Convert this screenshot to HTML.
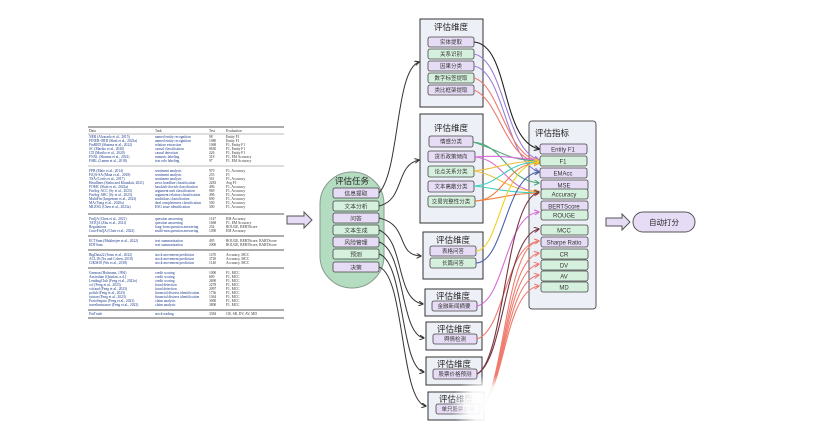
<!DOCTYPE html>
<html><head><meta charset="utf-8"><style>
html,body{margin:0;padding:0;background:#fff;}
svg{display:block;}
.cn{font-family:"Liberation Sans","Noto Sans CJK SC",sans-serif;}
</style></head><body>
<svg width="831" height="443" viewBox="0 0 831 443" xmlns="http://www.w3.org/2000/svg" class="cn">
<defs>
<marker id="ah" viewBox="0 0 10 10" refX="9" refY="5" markerWidth="5" markerHeight="5" orient="auto"><path d="M0,0 L10,5 L0,10" fill="none" stroke="context-stroke" stroke-width="2"/></marker>
<radialGradient id="fade"><stop offset="0" stop-color="#fff" stop-opacity="1"/><stop offset="0.6" stop-color="#fff" stop-opacity="0.9"/><stop offset="1" stop-color="#fff" stop-opacity="0"/></radialGradient>
</defs>

<!-- table -->
<g font-family="Liberation Serif,serif" font-size="3.6" fill="#333">
<line x1="88" y1="127" x2="284" y2="127" stroke="#222" stroke-width="0.8"/>
<line x1="88" y1="134" x2="284" y2="134" stroke="#555" stroke-width="0.4"/>
<text x="89" y="132">Data</text><text x="155" y="132">Task</text><text x="209" y="132">Test</text><text x="226" y="132">Evaluation</text>
<text x="89" y="138" fill="#1a3a8a">NER (Alvarado et al., 2015)</text><text x="155" y="138" fill="#1a3a8a">named entity recognition</text><text x="209" y="138">98</text><text x="226" y="138">Entity F1</text>
<text x="89" y="142" fill="#1a3a8a">FINER-ORD (Shah et al., 2023a)</text><text x="155" y="142" fill="#1a3a8a">named entity recognition</text><text x="209" y="142">1080</text><text x="226" y="142">Entity F1</text>
<text x="89" y="146" fill="#1a3a8a">FinRED (Sharma et al., 2022)</text><text x="155" y="146" fill="#1a3a8a">relation extraction</text><text x="209" y="146">1068</text><text x="226" y="146">F1, Entity F1</text>
<text x="89" y="150" fill="#1a3a8a">SC (Mariko et al., 2020)</text><text x="155" y="150" fill="#1a3a8a">causal classification</text><text x="209" y="150">8630</text><text x="226" y="150">F1, Entity F1</text>
<text x="89" y="154" fill="#1a3a8a">CD (Mariko et al., 2020)</text><text x="155" y="154" fill="#1a3a8a">causal detection</text><text x="209" y="154">226</text><text x="226" y="154">F1, Entity F1</text>
<text x="89" y="158" fill="#1a3a8a">FNXL (Sharma et al., 2023)</text><text x="155" y="158" fill="#1a3a8a">numeric labeling</text><text x="209" y="158">318</text><text x="226" y="158">F1, EM Accuracy</text>
<text x="89" y="162" fill="#1a3a8a">FSRL (Lamm et al., 2018)</text><text x="155" y="162" fill="#1a3a8a">text role labeling</text><text x="209" y="162">97</text><text x="226" y="162">F1, EM Accuracy</text>
<line x1="88" y1="166" x2="284" y2="166" stroke="#555" stroke-width="0.4"/>
<g fill="#1a3a8a">
<text x="89" y="172">FPB (Malo et al., 2014)</text><text x="155" y="172">sentiment analysis</text>
<text x="89" y="176">FiQA-SA (Maia et al., 2018)</text><text x="155" y="176">sentiment analysis</text>
<text x="89" y="180">TSA (Cortis et al., 2017)</text><text x="155" y="180">sentiment analysis</text>
<text x="89" y="184">Headlines (Sinha and Khandait, 2021)</text><text x="155" y="184">news headline classification</text>
<text x="89" y="188">FOMC (Shah et al., 2023a)</text><text x="155" y="188">hawkish-dovish classification</text>
<text x="89" y="192">FinArg-ACC (Sy et al., 2023)</text><text x="155" y="192">argument unit classification</text>
<text x="89" y="196">FinArg-ARC (Sy et al., 2023)</text><text x="155" y="196">argument relation classification</text>
<text x="89" y="200">MultiFin (Jørgensen et al., 2023)</text><text x="155" y="200">multiclass classification</text>
<text x="89" y="204">MA (Yang et al., 2020a)</text><text x="155" y="204">deal completeness classification</text>
<text x="89" y="208">MLESG (Chen et al., 2023a)</text><text x="155" y="208">ESG issue identification</text>
</g>
<g fill="#333"><text x="209" y="172">970</text><text x="209" y="176">235</text><text x="209" y="180">561</text><text x="209" y="184">2283</text><text x="209" y="188">496</text><text x="209" y="192">969</text><text x="209" y="196">496</text><text x="209" y="200">690</text><text x="209" y="204">500</text><text x="209" y="208">300</text>
<text x="226" y="172">F1, Accuracy</text><text x="226" y="176">F1</text><text x="226" y="180">F1, Accuracy</text><text x="226" y="184">Avg F1</text><text x="226" y="188">F1, Accuracy</text><text x="226" y="192">F1, Accuracy</text><text x="226" y="196">F1, Accuracy</text><text x="226" y="200">F1, Accuracy</text><text x="226" y="204">F1, Accuracy</text><text x="226" y="208">F1, Accuracy</text></g>
<line x1="88" y1="214" x2="284" y2="214" stroke="#222" stroke-width="0.8"/>
<g fill="#1a3a8a"><text x="89" y="220">FinQA (Chen et al., 2021)</text><text x="155" y="220">question answering</text>
<text x="89" y="224">TATQA (Zhu et al., 2021)</text><text x="155" y="224">question answering</text>
<text x="89" y="228">Regulations</text><text x="155" y="228">long-form question answering</text>
<text x="89" y="232">ConvFinQA (Chen et al., 2022)</text><text x="155" y="232">multi-turn question answering</text></g>
<g fill="#333"><text x="209" y="220">1147</text><text x="226" y="220">EM Accuracy</text><text x="209" y="224">1668</text><text x="226" y="224">F1, EM Accuracy</text><text x="209" y="228">254</text><text x="226" y="228">ROUGE, BERTScore</text><text x="209" y="232">1490</text><text x="226" y="232">EM Accuracy</text></g>
<line x1="88" y1="236" x2="284" y2="236" stroke="#222" stroke-width="0.8"/>
<g fill="#1a3a8a"><text x="89" y="242">ECTSum (Mukherjee et al., 2022)</text><text x="155" y="242">text summarization</text>
<text x="89" y="246">EDTSum</text><text x="155" y="246">text summarization</text></g>
<g fill="#333"><text x="209" y="242">495</text><text x="226" y="242">ROUGE, BERTScore, BARTScore</text><text x="209" y="246">2000</text><text x="226" y="246">ROUGE, BERTScore, BARTScore</text></g>
<line x1="88" y1="250" x2="284" y2="250" stroke="#222" stroke-width="0.8"/>
<g fill="#1a3a8a"><text x="89" y="256">BigData22 (Soun et al., 2022)</text><text x="155" y="256">stock movement prediction</text>
<text x="89" y="260">ACL18 (Xu and Cohen, 2018)</text><text x="155" y="260">stock movement prediction</text>
<text x="89" y="264">CIKM18 (Wu et al., 2018)</text><text x="155" y="264">stock movement prediction</text></g>
<g fill="#333"><text x="209" y="256">1470</text><text x="226" y="256">Accuracy, MCC</text><text x="209" y="260">3720</text><text x="226" y="260">Accuracy, MCC</text><text x="209" y="264">1140</text><text x="226" y="264">Accuracy, MCC</text></g>
<line x1="88" y1="268" x2="284" y2="268" stroke="#222" stroke-width="0.8"/>
<g fill="#1a3a8a"><text x="89" y="274">German (Hofmann, 1994)</text><text x="155" y="274">credit scoring</text>
<text x="89" y="278">Australian (Quinlan, n.d.)</text><text x="155" y="278">credit scoring</text>
<text x="89" y="282">LendingClub (Feng et al., 2023a)</text><text x="155" y="282">credit scoring</text>
<text x="89" y="286">ccf (Feng et al., 2023)</text><text x="155" y="286">fraud detection</text>
<text x="89" y="290">ccfraud (Feng et al., 2023)</text><text x="155" y="290">fraud detection</text>
<text x="89" y="294">polish (Feng et al., 2023)</text><text x="155" y="294">financial distress identification</text>
<text x="89" y="298">taiwan (Feng et al., 2023)</text><text x="155" y="298">financial distress identification</text>
<text x="89" y="302">PortoSeguro (Feng et al., 2023)</text><text x="155" y="302">claim analysis</text>
<text x="89" y="306">travelinsurance (Feng et al., 2023)</text><text x="155" y="306">claim analysis</text></g>
<g fill="#333"><text x="209" y="274">1000</text><text x="209" y="278">690</text><text x="209" y="282">2690</text><text x="209" y="286">2278</text><text x="209" y="290">2097</text><text x="209" y="294">1736</text><text x="209" y="298">1364</text><text x="209" y="302">3000</text><text x="209" y="306">3800</text>
<text x="226" y="274">F1, MCC</text><text x="226" y="278">F1, MCC</text><text x="226" y="282">F1, MCC</text><text x="226" y="286">F1, MCC</text><text x="226" y="290">F1, MCC</text><text x="226" y="294">F1, MCC</text><text x="226" y="298">F1, MCC</text><text x="226" y="302">F1, MCC</text><text x="226" y="306">F1, MCC</text></g>
<line x1="88" y1="310" x2="284" y2="310" stroke="#222" stroke-width="0.8"/>
<text x="89" y="315" fill="#1a3a8a">FinTrade</text><text x="155" y="315" fill="#1a3a8a">stock trading</text><text x="209" y="315">3384</text><text x="226" y="315">CR, SR, DV, AV, MD</text>
<line x1="88" y1="318" x2="284" y2="318" stroke="#222" stroke-width="0.8"/>
</g>

<!-- hollow arrow left -->
<path d="M287,216 L304,216 L304,212 L312,220 L304,228 L304,224 L287,224 Z" fill="#e6dcf5" stroke="#555" stroke-width="1"/>

<!-- tasks oval -->
<rect x="320" y="172" width="64" height="116" rx="32" fill="#b3dcc0" stroke="#8a9a90" stroke-width="1"/>
<text x="352" y="184" font-size="8.5" text-anchor="middle" fill="#222">评估任务</text>
<g font-size="5.8" text-anchor="middle" fill="#333" stroke-width="0.8">
<rect x="333" y="188" width="46" height="10" rx="2" fill="#e6dcf5" stroke="#444"/><text x="356" y="195.5">信息提取</text>
<rect x="333" y="201" width="46" height="10" rx="2" fill="#d5f0dd" stroke="#444"/><text x="356" y="208.5">文本分析</text>
<rect x="333" y="213" width="46" height="10" rx="2" fill="#e6dcf5" stroke="#444"/><text x="356" y="220.5">问答</text>
<rect x="333" y="225" width="46" height="10" rx="2" fill="#d5f0dd" stroke="#444"/><text x="356" y="232.5">文本生成</text>
<rect x="333" y="237" width="46" height="10" rx="2" fill="#e6dcf5" stroke="#444"/><text x="356" y="244.5">风险管理</text>
<rect x="333" y="249" width="46" height="10" rx="2" fill="#d5f0dd" stroke="#444"/><text x="356" y="256.5">预测</text>
<rect x="333" y="262" width="46" height="10" rx="2" fill="#e6dcf5" stroke="#444"/><text x="356" y="269.5">决策</text>
</g>

<!-- task -> dimension connectors -->
<g fill="none" stroke="#333" stroke-width="1" marker-end="url(#ah)">
<path d="M379,193 C400,170 395,70 419,62"/>
<path d="M379,206 C405,200 395,165 419,160"/>
<path d="M379,218 C410,225 395,255 421,256"/>
<path d="M379,230 C405,240 395,300 423,304"/>
<path d="M379,242 C405,250 400,335 424,338"/>
<path d="M379,254 C405,262 400,368 424,372"/>
<path d="M379,267 C405,275 400,402 426,406"/>
</g>

<!-- dimension boxes -->
<g stroke="#333" stroke-width="1" fill="#eef0f8">
<rect x="420" y="19" width="63" height="88"/>
<rect x="420" y="114" width="63" height="109"/>
<rect x="423" y="232" width="60" height="47"/>
<rect x="425" y="289" width="57" height="27"/>
<rect x="426" y="322" width="56" height="28"/>
<rect x="426" y="357" width="56" height="28"/>
<rect x="428" y="392" width="56" height="28"/>
</g>
<g font-size="8.5" text-anchor="middle" fill="#222">
<text x="451" y="30">评估维度</text><text x="451" y="131">评估维度</text><text x="453" y="243">评估维度</text>
<text x="453" y="299">评估维度</text><text x="454" y="332">评估维度</text><text x="454" y="367">评估维度</text><text x="456" y="402">评估维度</text>
</g>
<g font-size="5.5" text-anchor="middle" fill="#333" stroke-width="0.8">
<rect x="428" y="37" width="46" height="10" rx="2" fill="#e6dcf5" stroke="#444"/><text x="451" y="44">实体提取</text>
<rect x="428" y="49" width="46" height="10" rx="2" fill="#d5f0dd" stroke="#444"/><text x="451" y="56">关系识别</text>
<rect x="428" y="61" width="46" height="10" rx="2" fill="#e6dcf5" stroke="#444"/><text x="451" y="68">因果分类</text>
<rect x="428" y="73" width="46" height="10" rx="2" fill="#d5f0dd" stroke="#444"/><text x="451" y="80">数字标签提取</text>
<rect x="428" y="85" width="46" height="10" rx="2" fill="#e6dcf5" stroke="#444"/><text x="451" y="92">类比框架提取</text>

<rect x="429" y="136" width="44" height="11" rx="2" fill="#e6dcf5" stroke="#444"/><text x="451" y="143.5">情感分类</text>
<rect x="428" y="151" width="47" height="11" rx="2" fill="#e6dcf5" stroke="#444"/><text x="451" y="158.5">货币政策倾向</text>
<rect x="428" y="166" width="46" height="11" rx="2" fill="#d5f0dd" stroke="#444"/><text x="451" y="173.5">论点关系分类</text>
<rect x="428" y="181" width="46" height="11" rx="2" fill="#e6dcf5" stroke="#444"/><text x="451" y="188.5">文本离散分类</text>
<rect x="428" y="196" width="47" height="11" rx="2" fill="#d5f0dd" stroke="#444"/><text x="451" y="203.5">交易完整性分类</text>

<rect x="430" y="246" width="46" height="10" rx="2" fill="#e6dcf5" stroke="#444"/><text x="453" y="253">表格问答</text>
<rect x="430" y="258" width="46" height="10" rx="2" fill="#d5f0dd" stroke="#444"/><text x="453" y="265">长篇问答</text>
<rect x="432" y="301" width="45" height="10" rx="2" fill="#e6dcf5" stroke="#444"/><text x="454" y="308">金融新闻摘要</text>
<rect x="433" y="334" width="44" height="10" rx="2" fill="#e6dcf5" stroke="#444"/><text x="455" y="341">舆情检测</text>
<rect x="433" y="369" width="44" height="10" rx="2" fill="#e6dcf5" stroke="#444"/><text x="455" y="376">股票价格预测</text>
<rect x="436" y="404" width="44" height="10" rx="2" fill="#e6dcf5" stroke="#444"/><text x="458" y="411">单只股票交易</text>
</g>

<!-- metrics box -->
<rect x="529" y="121" width="67" height="188" rx="3" fill="#eef0f8" stroke="#555" stroke-width="1"/>
<text x="535" y="136" font-size="8.5" fill="#222">评估指标</text>

<!-- colored connectors -->
<g fill="none" stroke-width="1.1" marker-end="url(#ah)">
<path d="M474,42 C510,45 500,140 539,149" stroke="#222"/>
<path d="M474,54 C505,60 505,150 539,160" stroke="#9a7ed8"/>
<path d="M474,66 C505,72 505,160 539,172" stroke="#9a7ed8"/>
<path d="M474,78 C500,85 505,155 539,161" stroke="#ef7b6e"/>
<path d="M474,90 C500,100 505,160 539,162" stroke="#ef7b6e"/>
<path d="M473,142 C505,145 505,180 539,183" stroke="#4fa878"/>
<path d="M473,142 C500,150 505,160 539,161" stroke="#4fa878"/>
<path d="M475,157 C505,155 510,158 539,160" stroke="#d86ad8"/>
<path d="M475,157 C505,160 505,190 539,192" stroke="#d86ad8"/>
<path d="M474,171 C500,168 505,162 539,161" stroke="#f0c040"/>
<path d="M474,171 C500,175 505,190 539,192" stroke="#f0c040"/>
<path d="M474,186 C500,185 505,162 539,162" stroke="#40d0c0"/>
<path d="M474,186 C505,190 505,192 539,193" stroke="#40d0c0"/>
<path d="M475,201 C505,200 505,163 539,163" stroke="#f08040"/>
<path d="M475,201 C505,198 505,194 539,193" stroke="#f08040"/>
<path d="M476,251 C500,250 500,165 539,162" stroke="#f0d020"/>
<path d="M476,263 C505,262 505,175 539,172" stroke="#4a60b0"/>
<path d="M477,306 C505,300 505,215 539,212" stroke="#d86ad8"/>
<path d="M477,339 C505,330 505,245 539,241" stroke="#ef7b6e"/>
<path d="M477,374 C505,360 505,235 539,229" stroke="#7a3540"/>
<path d="M477,374 C505,360 505,200 539,192" stroke="#7a3540"/>
<path d="M480,409 C505,390 505,260 539,253" stroke="#ef7b6e"/>
<path d="M480,409 C505,390 505,270 539,264" stroke="#ef7b6e"/>
<path d="M480,409 C505,390 505,280 539,275" stroke="#ef7b6e"/>
<path d="M480,409 C505,390 505,290 539,286" stroke="#ef7b6e"/>
<path d="M480,409 C505,390 505,245 539,241" stroke="#ef7b6e"/>
</g>

<g font-size="6" text-anchor="middle" fill="#333" stroke-width="0.8">
<rect x="540" y="144" width="47" height="10" rx="2" fill="#e6dcf5" stroke="#444"/><text x="563" y="151.5">Entity F1</text>
<rect x="540" y="156" width="47" height="10" rx="2" fill="#d5f0dd" stroke="#444"/><text x="563" y="163.5">F1</text>
<rect x="540" y="168" width="47" height="10" rx="2" fill="#e6dcf5" stroke="#444"/><text x="563" y="175.5">EMAcc</text>
<rect x="541" y="180" width="47" height="10" rx="2" fill="#e6dcf5" stroke="#444"/><text x="564" y="187.5">MSE</text>
<rect x="541" y="189" width="47" height="10" rx="2" fill="#d5f0dd" stroke="#444"/><text x="564" y="196.5">Accuracy</text>
<rect x="541" y="201" width="47" height="10" rx="2" fill="#e6dcf5" stroke="#444"/><text x="564" y="208.5">BERTScore</text>
<rect x="541" y="210" width="47" height="10" rx="2" fill="#d5f0dd" stroke="#444"/><text x="564" y="217.5">ROUGE</text>
<rect x="541" y="225" width="47" height="10" rx="2" fill="#d5f0dd" stroke="#444"/><text x="564" y="232.5">MCC</text>
<rect x="541" y="237" width="47" height="10" rx="2" fill="#e6dcf5" stroke="#444"/><text x="564" y="244.5">Sharpe Ratio</text>
<rect x="541" y="249" width="47" height="10" rx="2" fill="#d5f0dd" stroke="#444"/><text x="564" y="256.5">CR</text>
<rect x="541" y="260" width="47" height="10" rx="2" fill="#d5f0dd" stroke="#444"/><text x="564" y="267.5">DV</text>
<rect x="541" y="271" width="47" height="10" rx="2" fill="#d5f0dd" stroke="#444"/><text x="564" y="278.5">AV</text>
<rect x="541" y="282" width="47" height="10" rx="2" fill="#d5f0dd" stroke="#444"/><text x="564" y="289.5">MD</text>
</g>

<!-- right arrow + result -->
<path d="M606,218 L622,218 L622,214 L630,222 L622,230 L622,226 L606,226 Z" fill="#e6dcf5" stroke="#555" stroke-width="1"/>
<rect x="633" y="212" width="62" height="20" rx="10" fill="#e6dcf5" stroke="#555" stroke-width="1"/>
<text x="664" y="225" font-size="7.5" text-anchor="middle" fill="#222">自动打分</text>

<!-- fade blob -->
<ellipse cx="490" cy="405" rx="40" ry="30" fill="url(#fade)"/>
</svg>
</body></html>
